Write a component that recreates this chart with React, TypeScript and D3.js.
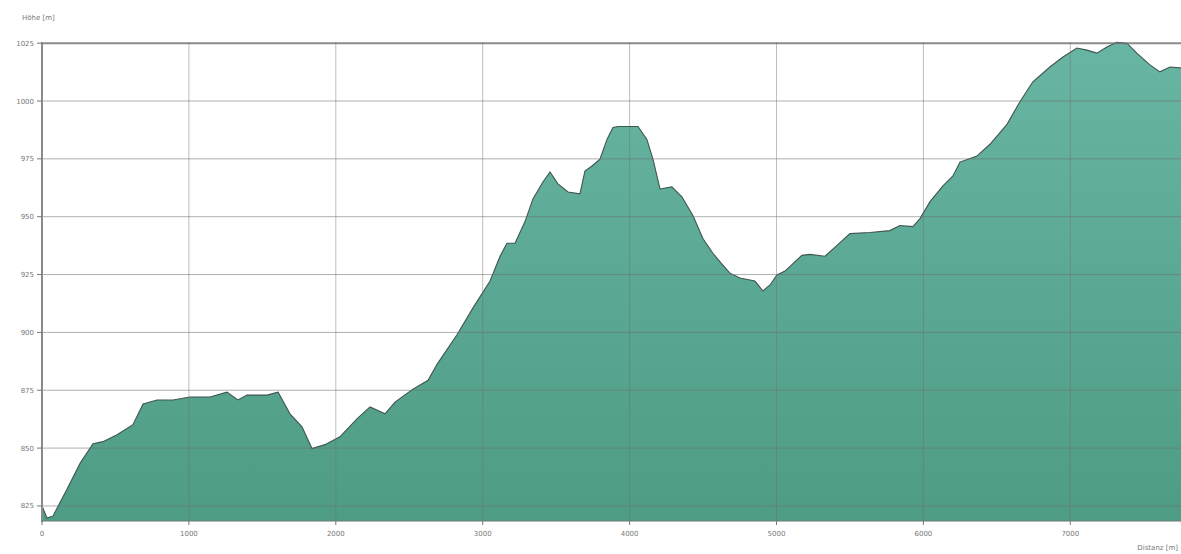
import React from 'react';
import * as d3 from 'd3';

// elevation profile
const distances = [
  0, 34, 75, 170, 259, 347, 415, 511, 619, 688, 783, 892, 1007, 1144, 1259, 1334, 1395, 1532, 1607,
  1688, 1770, 1838, 1926, 2028, 2144, 2233, 2335, 2403, 2525, 2628, 2689, 2825, 2934, 3050, 3118,
  3165, 3220, 3288, 3342, 3410, 3458, 3512, 3581, 3662, 3696, 3744, 3798, 3846, 3887, 3921, 4057,
  4118, 4159, 4207, 4288, 4356, 4431, 4499, 4567, 4636, 4683, 4751, 4853, 4908, 4956, 5003, 5058,
  5173, 5228, 5330, 5412, 5500, 5636, 5772, 5840, 5929, 5977, 6045, 6133, 6201, 6249, 6364, 6453,
  6569, 6657, 6745, 6861, 6950, 7045, 7113, 7181, 7249, 7317, 7385, 7453, 7542, 7610, 7678, 7746, 7800,
];
const elevations = [
  825, 819.8, 820.7, 832.2, 843.4, 851.9, 852.8, 855.8, 860.1, 869.1, 870.8, 870.8, 872.1, 872.1, 874.2, 870.8, 872.9, 872.9, 874.2,
  864.8, 859.2, 849.8, 851.5, 854.9, 862.6, 867.8, 864.8, 869.9, 875.5, 879.3, 886.2, 899.0, 910.6, 922.2, 932.9,
  938.5, 938.5, 947.9, 957.7, 965.0, 969.3, 964.2, 960.7, 959.9, 969.7, 971.9, 974.9, 983.4, 988.6, 989.0, 989.0,
  983.4, 974.9, 962.0, 962.9, 958.6, 950.5, 940.6, 934.2, 929.0, 925.6, 923.5, 922.2, 917.9, 920.5, 924.8, 926.5,
  933.3, 933.7, 932.9, 937.6, 942.7, 943.2, 944.0, 946.2, 945.7, 949.2, 956.5, 963.3, 967.6, 973.6, 976.2, 981.3,
  989.9, 999.7, 1008.3, 1014.7, 1019.0, 1022.9, 1022.0, 1020.7, 1023.3, 1025.4, 1025.0, 1020.7, 1015.6, 1012.6, 1014.7, 1014.3, 1015.5,
];
const xTicks = [0, 1000, 2000, 3000, 4000, 5000, 6000, 7000];
const yTicks = [825, 850, 875, 900, 925, 950, 975, 1000, 1025];

const W = 1181, H = 554;
const left = 42, top = 42, bottom = 521;

export default function App() {
  const x = d3.scaleLinear().domain([0, 7800]).range([left, left + 0.1469 * 7800]);
  const y = d3.scaleLinear().domain([818.5, 1025.5]).range([bottom, top]);
  const pts = distances.map((d, i) => [d, elevations[i]] as [number, number]);

  const area = d3.area<[number, number]>()
    .x(d => x(d[0]))
    .y0(bottom)
    .y1(d => y(d[1]));
  const line = d3.line<[number, number]>()
    .x(d => x(d[0]))
    .y(d => y(d[1]));

  const font = 'DejaVu Sans, sans-serif';

  return (
    <svg width={W} height={H} style={{ position: 'absolute', left: 0, top: 0, background: '#fff' }}>
      <defs>
        <linearGradient id="fillGrad" x1="0" y1="0" x2="0" y2="1">
          <stop offset="0%" stopColor="#68b5a3" />
          <stop offset="100%" stopColor="#4e9c85" />
        </linearGradient>
      </defs>

      <path d={area(pts) ?? ''} fill="url(#fillGrad)" />
      <path d={line(pts) ?? ''} fill="none" stroke="#3f5550" strokeWidth={1.1} />

      {/* grid over the fill */}
      {yTicks.map(t => (
        <line key={'gy' + t} x1={left} x2={W} y1={y(t)} y2={y(t)}
          stroke="#6e6e6e" strokeOpacity={t === 1025 ? 0.8 : 0.55} strokeWidth={t === 1025 ? 2 : 1} />
      ))}
      {xTicks.filter(t => t > 0).map(t => (
        <line key={'gx' + t} x1={x(t)} x2={x(t)} y1={top} y2={bottom}
          stroke="#6e6e6e" strokeOpacity={0.45} strokeWidth={1} />
      ))}

      {/* axes */}
      <line x1={left} x2={left} y1={top} y2={bottom + 1} stroke="#8a8a8a" strokeWidth={2} />
      <line x1={left} x2={W} y1={bottom} y2={bottom} stroke="#6a7d78" strokeWidth={1.2} />

      {yTicks.map(t => (
        <g key={'ty' + t}>
          <line x1={left - 5} x2={left} y1={y(t)} y2={y(t)} stroke="#777" strokeWidth={1} />
          <text x={left - 8} y={y(t) + 2.5} textAnchor="end" fontSize={7} fill="#777" fontFamily={font}>{t}</text>
        </g>
      ))}
      {xTicks.map(t => (
        <g key={'tx' + t}>
          <line x1={x(t)} x2={x(t)} y1={bottom} y2={bottom + 4} stroke="#777" strokeWidth={1} />
          <text x={x(t)} y={bottom + 15} textAnchor="middle" fontSize={7} fill="#777" fontFamily={font}>{t}</text>
        </g>
      ))}

      <text x={22} y={20} fontSize={7} fill="#777" fontFamily={font}>Höhe [m]</text>
      <text x={1178} y={550} textAnchor="end" fontSize={7} fill="#777" fontFamily={font}>Distanz [m]</text>
    </svg>
  );
}
